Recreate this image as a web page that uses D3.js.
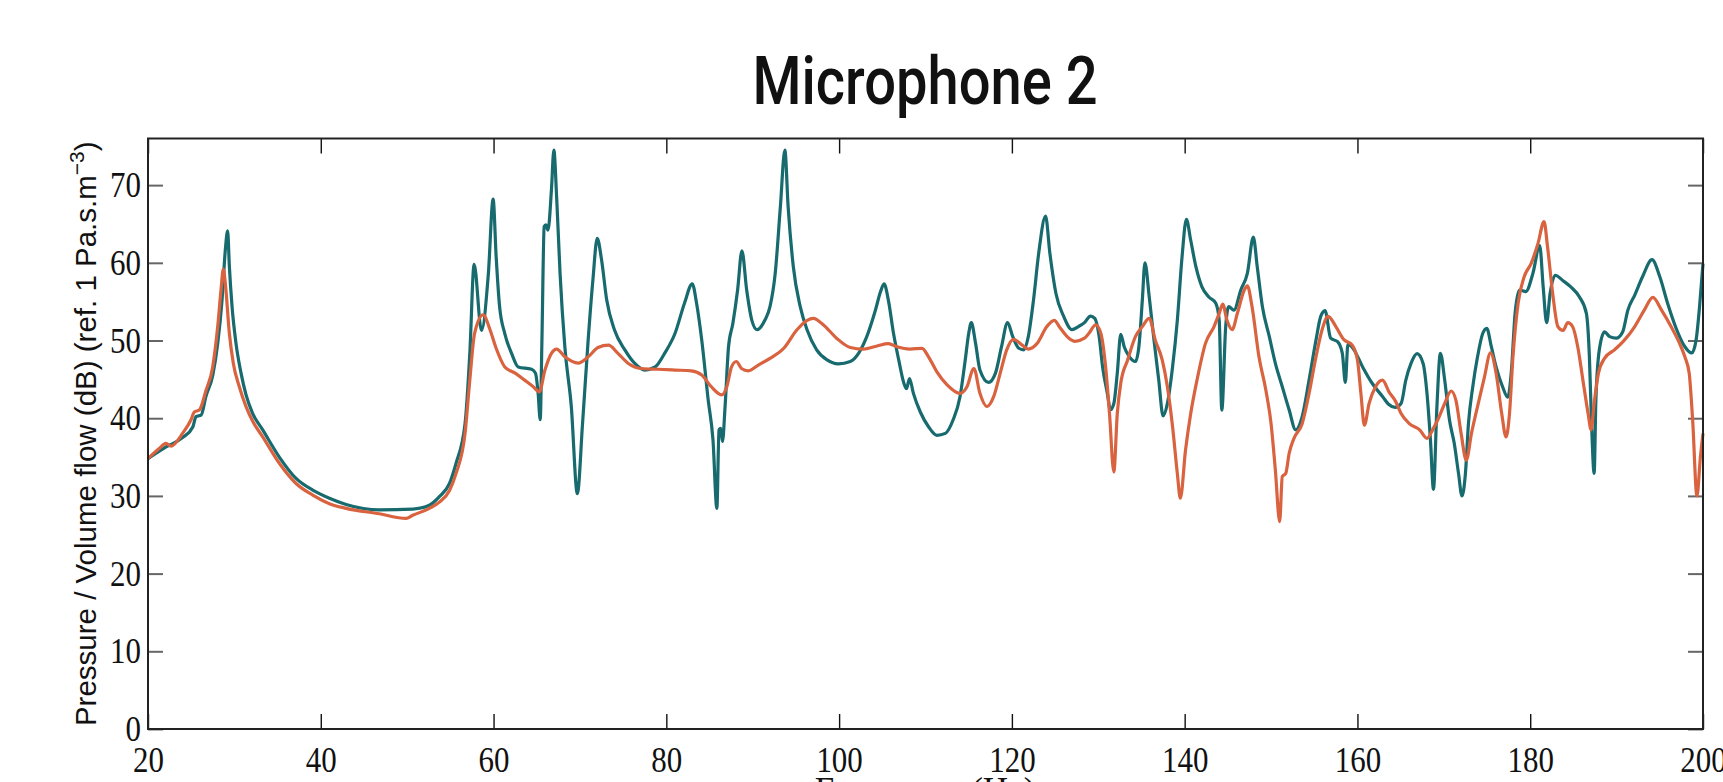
<!DOCTYPE html>
<html lang="en">

<head>
  <meta charset="UTF-8">
  <script src="https://cdn.jsdelivr.net/npm/d3@7"></script>
  <title>Microphone 2</title>
  <style>
    body {
      margin: 0;
      background: white;
    }

    svg {
      display: block;
    }

    .tick text {
      font-family: 'Liberation Serif', 'Times New Roman', serif;
      font-size: 36px;
      fill: #111;
    }
  </style>
</head>

<body>
  <svg width="1723" height="782" id="chart"></svg>
  <script>
    // curve 1 (teal)
    const freqA = [20.0, 22.1, 24.0, 25.2, 25.55, 26.15, 26.7, 27.5, 28.07, 28.57, 28.95, 29.22, 29.42, 29.73, 30.19, 30.77,
      31.35, 32.12, 33.28, 35.2, 37.14, 39.07, 41.0, 42.93, 46.78, 50.64, 52.57, 53.73, 54.9, 55.66, 56.7, 57.25, 57.75,
      58.6, 59.4, 59.95, 60.3, 60.7, 61.3, 62.1, 62.85, 64.4, 64.85, 65.16, 65.4, 65.6, 65.86, 66.05, 66.3, 66.7, 66.98,
      67.3, 67.7, 68.25, 69.0, 69.7, 70.3, 70.95, 71.5, 72.0, 72.5, 73.1, 74.0, 75.2, 76.35, 77.5, 78.7, 79.8, 81.0, 82.1,
      83.0, 83.5, 84.1, 84.85, 85.4, 85.85, 86.1, 86.3, 86.5, 86.8, 87.2, 87.7, 88.25, 88.75, 89.3, 89.9, 90.5, 91.4,
      92.0, 92.6, 93.2, 93.72, 94.1, 94.7, 95.5, 96.3, 97.4, 98.6, 99.9, 101.3, 102.25, 103.2, 104.2, 104.8, 105.2,
      105.7, 106.3, 106.9, 107.5, 107.8, 108.15, 108.6, 109.4, 110.35, 111.3, 112.3, 113.2, 114.0, 114.6, 115.0, 115.3,
      115.8, 116.3, 117.3, 118.1, 118.8, 119.5, 120.1, 120.8, 121.35, 121.9, 122.5, 123.1, 123.9, 124.4, 125.1, 126.0,
      126.95, 127.7, 128.4, 129.1, 129.6, 130.1, 130.5, 131.05, 131.4, 131.8, 132.2, 132.6, 133.0, 133.55, 134.3, 134.7,
      135.1, 135.4, 135.9, 136.45, 137.0, 137.5, 138.0, 138.6, 139.15, 139.7, 140.2, 140.7, 141.3, 142.0, 142.8, 143.6,
      144.0, 144.3, 144.75, 145.1, 145.7, 146.5, 147.25, 147.95, 148.4, 149.0, 149.8, 150.5, 151.3, 152.1, 152.85,
      153.6, 154.4, 155.2, 155.75, 156.25, 156.9, 157.7, 158.25, 158.6, 158.9, 159.6, 160.6, 161.7, 162.9, 163.6,
      164.35, 165.05, 165.6, 166.2, 166.9, 167.6, 168.05, 168.45, 168.8, 169.2, 169.6, 170.1, 170.65, 171.2, 171.7,
      172.1, 172.5, 172.85, 173.35, 173.9, 174.5, 174.97, 175.5, 176.05, 176.8, 177.4, 177.8, 178.25, 178.75, 179.5,
      180.3, 181.1, 181.5, 181.9, 182.3, 182.9, 183.8, 184.7, 185.7, 186.5, 186.85, 187.1, 187.4, 187.6, 188.0, 188.6,
      189.2, 189.95, 190.7, 191.3, 192.1, 193.0, 194.1, 195.0, 195.9, 196.9, 197.9, 198.7, 199.2, 199.6, 200.0];
    const levelA = [34.8, 36.3, 37.5, 38.9, 40.2, 40.4, 42.8, 45.55, 49.6, 55.2, 61.65, 64.1, 59.5, 54.35, 49.6, 45.8,
      43.0, 40.6, 38.5, 35.0, 32.25, 30.75, 29.7, 28.9, 28.2, 28.3, 28.8, 29.9, 31.6, 34.2, 39.3, 48.3, 59.8,
      51.3, 58.6, 68.2, 60.8, 54.35, 50.9, 48.3, 46.6, 46.3, 45.8, 43.2, 39.8, 50.05, 64.65, 64.9, 64.2, 69.4, 74.5,
      68.5, 58.6, 49.2, 41.5, 30.3, 39.3, 50.05, 57.8, 63.15, 60.4, 55.2, 51.35, 48.8, 47.05, 46.2, 46.6, 48.35, 50.9, 54.8,
      57.3, 54.8, 50.05, 42.3, 37.2, 28.4, 38.5, 38.7, 37.0, 41.5, 49.2, 52.2, 56.5, 61.55, 56.5, 52.6, 51.4, 52.6,
      54.35, 58.6, 67.2, 74.5, 67.2, 59.5, 54.35, 51.35, 48.8, 47.5, 47.0, 47.3, 48.35, 50.5, 53.9, 56.3, 57.3,
      55.2, 50.9, 47.5, 44.5, 43.8, 45.1, 43.2, 40.8, 38.9, 37.8, 38.05, 39.8, 42.8, 47.5, 50.9, 52.3,
      49.6, 46.2, 44.6, 45.8, 49.2, 52.3, 50.5, 49.0, 48.8, 50.5, 55.2, 61.2, 66.0, 61.2, 56.05, 53.1,
      51.4, 51.8, 52.3, 53.15, 52.85, 50.5, 46.6, 43.2, 41.1, 41.9, 45.8, 50.8, 49.2, 48.0, 47.3, 49.2,
      55.2, 60.0, 55.6, 50.05, 44.9, 40.3, 41.9, 46.6, 52.6, 60.8, 65.6, 62.9, 59.5, 56.9, 55.6, 54.8,
      52.6, 41.05, 51.8, 54.35, 53.9, 56.5, 58.6, 63.3, 59.5, 54.35, 50.5, 47.05, 44.05, 41.05, 38.5,
      40.2, 44.9, 50.05, 53.1, 53.85, 50.3, 49.85, 48.35, 44.6, 49.55, 48.8, 46.6, 44.5, 42.8, 41.8,
      41.4, 41.9, 44.9, 47.05, 48.3, 47.05, 43.2, 37.2, 30.85, 41.5, 48.35, 44.9, 39.8, 36.8, 32.9,
      30.0, 32.9, 39.3, 44.05, 47.9, 50.9, 51.55, 49.2, 46.6, 44.05, 42.7, 45.8, 53.5, 56.5, 56.3,
      58.6, 62.2, 56.9, 52.3, 56.05, 58.4, 57.7, 56.9, 55.6, 53.5, 47.9, 39.3, 32.9, 42.3, 48.8, 51.1,
      50.5, 50.3, 51.1, 53.9, 55.85, 58.2, 60.4, 58.2, 54.8, 51.55, 49.2, 48.4, 50.05, 54.35, 59.9];

    // curve 2 (orange)
    const freqB = [20.0, 21.3, 22.08, 22.66, 24.0, 24.98, 25.36, 25.94, 26.72, 27.49, 28.07, 28.45, 28.72, 28.95, 29.42,
      29.88, 30.57, 31.35, 32.12, 33.28, 35.2, 37.14, 39.07, 41.0, 42.93, 46.78, 49.87, 50.64, 52.57, 53.73, 54.9, 55.66,
      56.7, 57.25, 57.8, 58.8, 59.6, 60.3, 61.3, 62.5, 63.6, 64.6, 65.3, 65.95, 66.7, 67.3, 68.25, 69.8, 70.95, 72.1,
      73.3, 74.4, 75.6, 77.1, 79.05, 81.0, 82.9, 84.1, 85.2, 86.4, 87.0, 87.55, 88.1, 88.7, 89.5, 90.6, 92.0, 93.6,
      95.1, 96.3, 97.0, 98.2, 99.7, 101.3, 102.8, 104.4, 105.7, 106.7, 108.2, 109.6, 110.35, 111.3, 112.5, 114.0,
      114.8, 115.6, 116.3, 117.1, 117.9, 118.65, 119.4, 120.2, 121.2, 121.9, 122.9, 124.05, 124.9, 125.6, 126.6,
      127.3, 128.4, 128.9, 129.7, 130.3, 130.85, 131.3, 131.8, 132.2, 132.6, 133.4, 134.3, 135.1, 135.9, 136.6,
      137.4, 138.0, 138.6, 139.15, 139.5, 140.1, 140.7, 141.5, 142.4, 143.4, 144.0, 144.4, 144.9, 145.5, 146.1,
      146.9, 147.25, 147.8, 148.6, 149.4, 150.0, 150.5, 151.0, 151.3, 151.7, 152.1, 152.65, 153.6, 154.4, 155.2,
      155.9, 156.6, 157.5, 158.4, 159.4, 160.0, 160.4, 160.8, 161.35, 162.1, 162.9, 163.65, 164.4, 165.05, 166.0,
      167.2, 168.05, 168.7, 169.3, 170.1, 170.85, 171.4, 172.0, 172.6, 173.2, 173.9, 174.7, 175.4, 176.05, 176.7,
      177.2, 177.6, 178.0, 178.6, 179.3, 180.1, 180.9, 181.6, 182.0, 182.6, 183.2, 183.8, 184.35, 184.9, 185.5,
      186.1, 186.7, 187.05, 187.4, 187.9, 188.6, 189.75, 190.9, 192.1, 193.2, 194.2, 195.2, 196.3, 197.3, 197.9,
      198.4, 198.8, 199.3, 199.7, 200.0];
    const levelB = [34.8, 36.1, 36.75, 36.4, 38.05, 39.8, 40.8, 41.05, 43.6, 46.6, 51.8, 56.5, 59.2, 57.35, 50.9,
      47.05, 44.05, 41.5, 39.6, 37.6, 34.2, 31.6, 30.1, 29.0, 28.4, 27.7, 27.1, 27.5, 28.4, 29.2, 30.7, 32.9,
      38.05, 44.9, 50.9, 53.3, 51.35, 49.0, 46.6, 45.8, 44.9, 44.05, 43.4, 46.2, 48.35, 48.9, 47.9, 47.1, 47.9, 49.1,
      49.4, 48.35, 47.05, 46.4, 46.3, 46.2, 46.1, 45.55, 44.05, 43.0, 44.05, 46.6, 47.3, 46.4, 46.1, 46.8, 47.7, 49.0,
      51.35, 52.6, 52.85, 52.0, 50.3, 49.1, 48.9, 49.3, 49.6, 49.2, 48.9, 49.0, 47.9, 46.0, 44.3, 43.2,
      44.05, 46.4, 43.2, 41.5, 42.8, 45.8, 48.8, 50.15, 49.4, 48.9, 49.6, 51.8, 52.6, 51.6, 50.3,
      49.9, 50.3, 50.9, 52.0, 50.9, 46.6, 40.6, 33.1, 40.6, 44.5, 47.5, 50.5, 51.8, 52.85, 50.05,
      47.5, 44.05, 38.9, 32.9, 29.7, 35.9, 40.6, 45.3, 49.6, 51.8, 53.5, 54.7, 52.6, 51.4, 53.5,
      56.5, 57.05, 54.35, 47.9, 43.6, 39.3, 33.3, 26.7, 32.5, 32.9, 35.5, 37.4, 39.3, 43.2, 47.9,
      51.35, 53.1, 51.8, 50.15, 49.4, 47.5, 43.2, 39.1, 41.9, 44.05, 44.9, 43.4, 42.2, 40.6, 39.3,
      38.5, 37.4, 38.5, 39.8, 41.9, 43.5, 42.3, 38.05, 34.6, 38.05, 41.5, 45.3, 48.4, 45.8, 40.6,
      37.6, 40.6, 47.9, 54.8, 58.2, 59.9, 62.5, 65.3, 62.1, 56.05, 51.8, 51.3, 52.3, 51.8, 49.2,
      44.9, 40.6, 38.5, 41.9, 45.8, 47.7, 48.8, 50.05, 51.8, 53.9, 55.55, 53.9, 51.8, 49.6, 47.9,
      45.8, 39.8, 30.0, 35.0, 38.05];

    const xTicks = [20, 40, 60, 80, 100, 120, 140, 160, 180, 200];
    const yTicks = [0, 10, 20, 30, 40, 50, 60, 70];

    const svg = d3.select("#chart");
    const plotLeft = 148, plotRight = 1703, plotTop = 138.5, plotBottom = 729;

    const scaleX = d3.scaleLinear()
      .domain([20, 200])
      .range([plotLeft, plotRight]);
    const scaleY = d3.scaleLinear()
      .domain([0, 76])
      .range([plotBottom, plotTop]);

    // title
    svg.append("text")
      .attr("x", 925)
      .attr("y", 104)
      .attr("text-anchor", "middle")
      .attr("textLength", 345)
      .attr("lengthAdjust", "spacingAndGlyphs")
      .style("font-family", "Roboto, 'Liberation Sans', sans-serif")
      .style("font-weight", 500)
      .style("font-size", "67px")
      .style("fill", "#111")
      .text("Microphone 2");

    // axes with inward ticks
    const gx = svg.append("g")
      .attr("transform", `translate(0,${plotBottom})`)
      .call(d3.axisBottom(scaleX).tickValues(xTicks).tickSizeInner(-15).tickSizeOuter(0).tickPadding(17));
    const gxTop = svg.append("g")
      .attr("transform", `translate(0,${plotTop})`)
      .call(d3.axisTop(scaleX).tickValues(xTicks).tickSizeInner(-15).tickSizeOuter(0).tickFormat(""));
    const gy = svg.append("g")
      .attr("transform", `translate(${plotLeft},0)`)
      .call(d3.axisLeft(scaleY).tickValues(yTicks).tickSizeInner(-15).tickSizeOuter(0).tickPadding(7));
    const gyRight = svg.append("g")
      .attr("transform", `translate(${plotRight},0)`)
      .call(d3.axisRight(scaleY).tickValues(yTicks).tickSizeInner(-15).tickSizeOuter(0).tickFormat(""));

    [gx, gxTop, gy, gyRight].forEach(g => g.select(".domain").remove());
    [gx, gxTop].forEach(g => g.selectAll(".tick line").attr("stroke", "#111").attr("stroke-width", 1.4));
    [gy, gyRight].forEach(g => g.selectAll(".tick line").attr("stroke", "#666").attr("stroke-width", 2));
    [gx, gy].forEach(g => g.attr("font-family", null).attr("font-size", null));
    // tall, slightly narrow digits like the original
    gx.selectAll(".tick text").attr("transform", "scale(0.86,1)");
    gy.selectAll(".tick text").attr("x", -7 / 0.86).attr("transform", "scale(0.86,1)");

    // curves
    const line = d3.line()
      .x(d => scaleX(d[0]))
      .y(d => scaleY(d[1]))
      .curve(d3.curveMonotoneX);

    svg.append("path")
      .datum(freqA.map((f, i) => [f, levelA[i]]))
      .attr("d", line)
      .attr("fill", "none")
      .attr("stroke", "#176a6e")
      .attr("stroke-width", 3.2)
      .attr("stroke-linejoin", "round");

    svg.append("path")
      .datum(freqB.map((f, i) => [f, levelB[i]]))
      .attr("d", line)
      .attr("fill", "none")
      .attr("stroke", "#d9623f")
      .attr("stroke-width", 3.2)
      .attr("stroke-linejoin", "round");

    // frame
    svg.append("rect")
      .attr("x", plotLeft)
      .attr("y", plotTop)
      .attr("width", plotRight - plotLeft)
      .attr("height", plotBottom - plotTop)
      .attr("fill", "none")
      .attr("stroke", "#222")
      .attr("stroke-width", 2);

    // axis titles
    const yLabel = svg.append("text")
      .attr("transform", `translate(96,${(plotTop + plotBottom) / 2}) rotate(-90)`)
      .attr("text-anchor", "middle")
      .style("font-family", "'Liberation Sans', Arial, sans-serif")
      .style("font-size", "29.5px")
      .style("fill", "#111");
    yLabel.append("tspan").text("Pressure / Volume flow (dB) (ref. 1 Pa.s.m");
    yLabel.append("tspan").attr("dy", -12).style("font-size", "21px").text("\u22123");
    yLabel.append("tspan").attr("dy", 12).text(")");

    svg.append("text")
      .attr("x", 925)
      .attr("y", 802)
      .attr("text-anchor", "middle")
      .style("font-family", "'Liberation Serif', 'Times New Roman', serif")
      .style("font-size", "35px")
      .style("fill", "#111")
      .text("Frequency (Hz)");
  </script>
</body>

</html>
